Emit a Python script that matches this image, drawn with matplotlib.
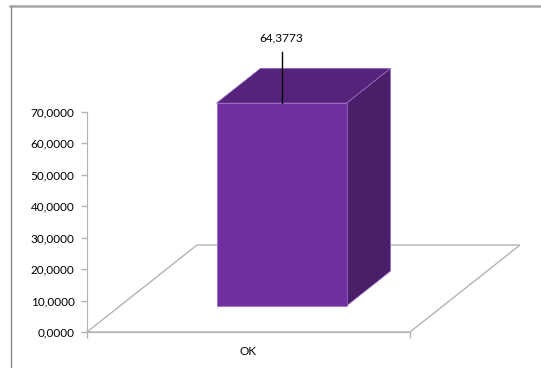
import matplotlib
matplotlib.use("Agg")
import matplotlib.pyplot as plt
from matplotlib.patches import Polygon
from matplotlib.ticker import FuncFormatter
from matplotlib.lines import Line2D

# Data
categories = ["OK"]
values = [64.3773]
y_ticks = [0, 10, 20, 30, 40, 50, 60, 70]

W, H = 541, 368
fig = plt.figure(figsize=(W / 100, H / 100), dpi=100)
plt.rcParams["font.family"] = ["Lato", "DejaVu Sans"]
FS = 8.5

# Outer chart frame
fig.add_artist(Line2D([10 / W, 1.0], [1 - 5.5 / H, 1 - 5.5 / H], transform=fig.transFigure,
                      color="#a6a6a6", lw=1.8))
fig.add_artist(Line2D([10.5 / W, 10.5 / W], [0, 1 - 5.5 / H], transform=fig.transFigure,
                      color="#8c8c8c", lw=1.0))

# Plot area (front plane of the 3-D box)
x0, x1 = 87, 410
y0, y1 = 332, 111.5
ax = fig.add_axes([x0 / W, 1 - y0 / H, (x1 - x0) / W, (y0 - y1) / H])
ax.set_xlim(-0.5, len(categories) - 0.5)
ax.set_ylim(0, 70)
ax.patch.set_visible(False)

# Oblique depth: full floor depth as offsets in data units
px_x = (x1 - x0) / len(categories)
px_y = (y0 - y1) / 70.0
depth_dx = 110 / px_x
depth_dy = 87 / px_y

def proj(x, v, d):
    return (x + d * depth_dx, v + d * depth_dy)

grid_col = "#b3b3b3"

# Floor
floor = [proj(-0.5, 0, 0), proj(len(categories) - 0.5, 0, 0),
         proj(len(categories) - 0.5, 0, 1), proj(-0.5, 0, 1)]
ax.add_patch(Polygon(floor, closed=True, facecolor="none", edgecolor=grid_col,
                     lw=1.0, clip_on=False, zorder=1))

# Bars
bar_w = 130 / px_x
d_front, d_back = 0.3, 0.7
front_col, top_col, side_col, edge_col = "#7030a0", "#55237a", "#4a1e68", "#9b6cc4"
for i, (cat, v) in enumerate(zip(categories, values)):
    xl, xr = i - bar_w / 2, i + bar_w / 2
    side = [proj(xr, 0, d_front), proj(xr, 0, d_back), proj(xr, v, d_back), proj(xr, v, d_front)]
    top = [proj(xl, v, d_front), proj(xr, v, d_front), proj(xr, v, d_back), proj(xl, v, d_back)]
    front = [proj(xl, 0, d_front), proj(xr, 0, d_front), proj(xr, v, d_front), proj(xl, v, d_front)]
    for poly, col in ((side, side_col), (top, top_col), (front, front_col)):
        ax.add_patch(Polygon(poly, closed=True, facecolor=col, edgecolor=edge_col,
                             lw=0.5, clip_on=False, zorder=3))
    # Value label with leader line
    cx, cy = proj(i, v, d_front)
    lab_y = cy + 56 / px_y
    ax.plot([cx, cx], [cy, lab_y - 1.5], color="black", lw=1.0, clip_on=False, zorder=4)
    ax.text(cx, lab_y + 9.5 / px_y, f"{v:.4f}".replace(".", ","), ha="center", va="center",
            fontsize=FS, color="black", clip_on=False, zorder=4)

# Axes styling
for s in ("top", "right"):
    ax.spines[s].set_visible(False)
ax.spines["left"].set_color(grid_col)
ax.spines["bottom"].set_color(grid_col)
ax.spines["left"].set_bounds(0, 70)

ax.set_yticks(y_ticks)
ax.yaxis.set_major_formatter(FuncFormatter(lambda v, p: f"{v:.4f}".replace(".", ",")))
ax.tick_params(axis="y", direction="out", length=4, width=1, color=grid_col,
               labelsize=FS, pad=5, labelcolor="black")

ax.set_xticks([i - 0.5 for i in range(len(categories) + 1)])
ax.set_xticklabels([""] * (len(categories) + 1))
ax.set_xticks(range(len(categories)), minor=True)
ax.set_xticklabels(categories, minor=True)
ax.tick_params(axis="x", which="major", direction="out", length=4, width=1, color=grid_col)
ax.tick_params(axis="x", which="minor", length=0, labelsize=FS, pad=10, labelcolor="black")

fig.savefig("out.png", dpi=100)
